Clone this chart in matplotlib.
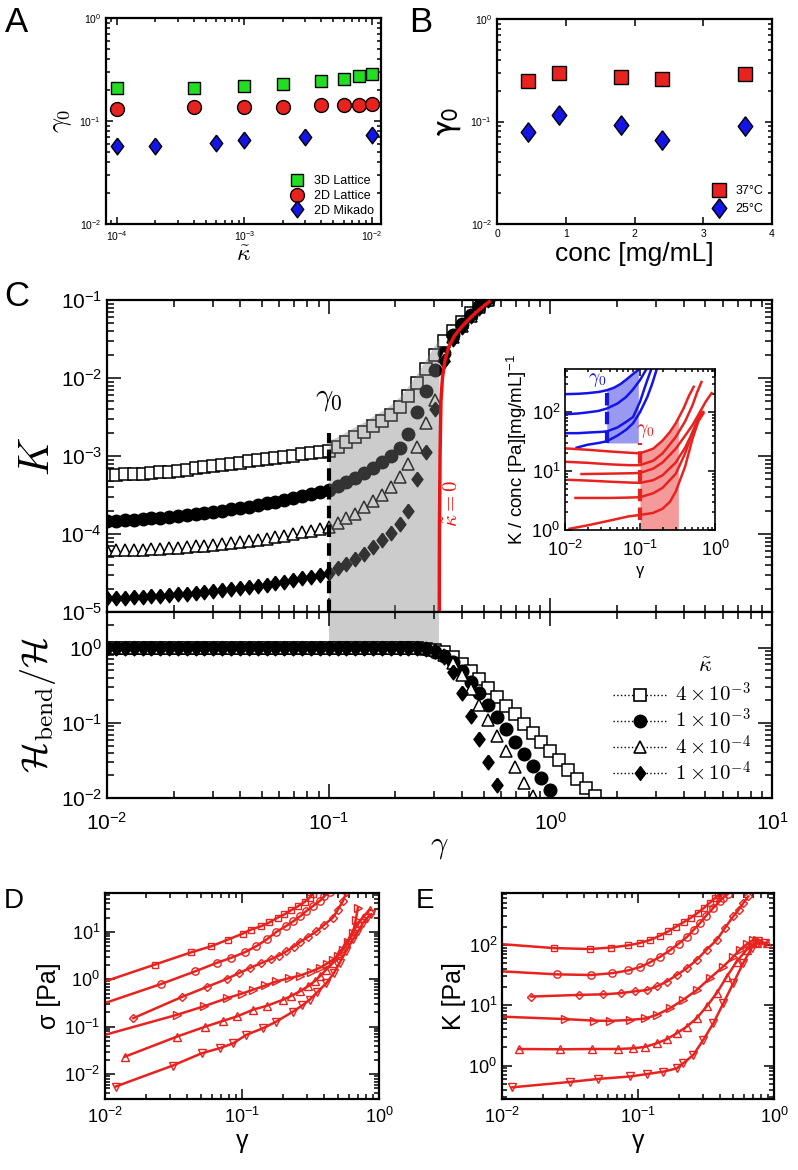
import numpy as np
import matplotlib
matplotlib.use("Agg")
import matplotlib.pyplot as plt
from matplotlib.lines import Line2D
from matplotlib.ticker import LogLocator, NullFormatter

plt.rcParams['font.family'] = ['Liberation Sans', 'DejaVu Sans']
plt.rcParams['mathtext.fontset'] = 'cm'

W, H = 798, 1170

# ---------------- panel A: gamma_0 vs kappa
kap_3d = [1e-4, 4e-4, 1e-3, 2e-3, 4e-3, 6e-3, 8e-3, 1e-2]
g0_3d = [0.21, 0.21, 0.22, 0.227, 0.246, 0.258, 0.272, 0.286]
kap_2d = [1e-4, 4e-4, 1e-3, 2e-3, 4e-3, 6e-3, 8e-3, 1e-2]
g0_2d = [0.132, 0.138, 0.138, 0.138, 0.143, 0.143, 0.143, 0.147]
kap_mk = [1e-4, 2e-4, 6e-4, 1e-3, 3e-3, 1e-2]
g0_mk = [0.057, 0.057, 0.061, 0.0655, 0.0695, 0.0726]

# ---------------- panel B: gamma_0 vs concentration
conc = [0.45, 0.9, 1.8, 2.4, 3.6]
g0_37 = [0.248, 0.295, 0.27, 0.262, 0.292]
g0_25 = [0.0795, 0.115, 0.0925, 0.066, 0.0897]

# ---------------- panel C: strain grid of the simulations
gam = [0.0100, 0.0110, 0.0120, 0.0132, 0.0145, 0.0158, 0.0174, 0.0191, 0.0209, 0.0229,
       0.0251, 0.0275, 0.0302, 0.0331, 0.0363, 0.0398, 0.0437, 0.0479, 0.0525, 0.0575,
       0.0631, 0.0692, 0.0759, 0.0832, 0.0912, 0.100, 0.110, 0.120, 0.132, 0.145,
       0.158, 0.174, 0.191, 0.209, 0.229, 0.251, 0.275, 0.302, 0.331, 0.363,
       0.398, 0.437, 0.479, 0.525, 0.575, 0.631, 0.692, 0.759, 0.832, 0.912,
       1.000, 1.096, 1.202, 1.318, 1.445, 1.585]

# log10 K for kappa = 4e-3, 1e-3, 4e-4, 1e-4
lgK_sq = [-3.24, -3.24, -3.235, -3.23, -3.225, -3.22, -3.21, -3.20, -3.19, -3.175,
          -3.16, -3.145, -3.13, -3.115, -3.10, -3.085, -3.07, -3.055, -3.04, -3.025,
          -3.01, -2.995, -2.98, -2.965, -2.95, -2.93, -2.88, -2.82, -2.75, -2.69,
          -2.62, -2.55, -2.47, -2.37, -2.23, -2.07, -1.89, -1.70, -1.53, -1.40,
          -1.28, -1.17, -1.07, -0.99]
lgK_ci = [-3.83, -3.83, -3.825, -3.82, -3.81, -3.80, -3.79, -3.78, -3.765, -3.755,
          -3.74, -3.73, -3.715, -3.70, -3.685, -3.67, -3.65, -3.63, -3.605, -3.585,
          -3.56, -3.54, -3.515, -3.49, -3.465, -3.44, -3.39, -3.33, -3.28, -3.22,
          -3.15, -3.08, -3.00, -2.90, -2.72, -2.44, -2.17, -1.90, -1.68, -1.45,
          -1.31, -1.19, -1.08, -1.00]
lgK_tr = [-4.21, -4.21, -4.205, -4.20, -4.20, -4.195, -4.19, -4.185, -4.18, -4.17,
          -4.16, -4.15, -4.14, -4.13, -4.12, -4.105, -4.09, -4.075, -4.06, -4.04,
          -4.02, -4.00, -3.98, -3.96, -3.935, -3.91, -3.86, -3.80, -3.74, -3.66,
          -3.58, -3.50, -3.40, -3.27, -3.10, -2.88, -2.58, -2.28, -1.72, -1.47,
          -1.33, -1.20, -1.09, -1.00]
lgK_di = [-4.82, -4.82, -4.815, -4.81, -4.805, -4.80, -4.795, -4.785, -4.775, -4.765,
          -4.755, -4.745, -4.735, -4.72, -4.71, -4.695, -4.68, -4.665, -4.65, -4.63,
          -4.61, -4.59, -4.57, -4.545, -4.52, -4.50, -4.44, -4.38, -4.32, -4.25,
          -4.17, -4.08, -3.99, -3.87, -3.70, -3.30, -2.95, -2.40, -1.78, -1.50,
          -1.34, -1.21, -1.10, -1.00]

# kappa = 0 curve
gam_k0 = [0.315, 0.316, 0.318, 0.321, 0.326, 0.335, 0.348, 0.37, 0.40, 0.44, 0.48, 0.53]
K_k0 = [1e-6, 1e-4, 1e-3, 5e-3, 0.010, 0.017, 0.025, 0.035, 0.046, 0.061, 0.076, 0.095]

gamma0 = 0.1
gamma_c = 0.315

# log10 H_bend/H
lgH_sq = [0, 0, 0, 0, 0, 0, 0, 0, 0, 0, 0, 0, 0, 0, 0, 0, 0, 0,
          0, 0, 0, 0, 0, 0, 0, 0, 0, 0, 0, 0, 0, 0, 0, 0, 0, 0,
          -0.01, -0.03, -0.06, -0.12, -0.21, -0.31, -0.42, -0.53, -0.65, -0.77,
          -0.88, -1.01, -1.13, -1.26, -1.38, -1.50, -1.63, -1.75, -1.87, -1.98]
lgH_ci = [0, 0, 0, 0, 0, 0, 0, 0, 0, 0, 0, 0, 0, 0, 0, 0, 0, 0,
          0, 0, 0, 0, 0, 0, 0, 0, 0, 0, 0, 0, 0, 0, 0, 0, 0, 0,
          -0.02, -0.05, -0.11, -0.19, -0.31, -0.45, -0.60, -0.76, -0.92, -1.08,
          -1.25, -1.41, -1.58, -1.74, -1.90]
lgH_tr = [0, 0, 0, 0, 0, 0, 0, 0, 0, 0, 0, 0, 0, 0, 0, 0, 0, 0,
          0, 0, 0, 0, 0, 0, 0, 0, 0, 0, 0, 0, 0, 0, 0, 0, 0, 0, 0,
          -0.03, -0.09, -0.20, -0.36, -0.55, -0.76, -0.96, -1.17, -1.38, -1.59,
          -1.80, -1.98]
lgH_di = [0, 0, 0, 0, 0, 0, 0, 0, 0, 0, 0, 0, 0, 0, 0, 0, 0, 0,
          0, 0, 0, 0, 0, 0, 0, 0, 0, 0, 0, 0, 0, 0, 0, 0, 0, 0,
          -0.01, -0.04, -0.12, -0.32, -0.60, -0.91, -1.21, -1.52, -1.83]

kappa_labels = [r'$4\times10^{-3}$', r'$1\times10^{-3}$', r'$4\times10^{-4}$', r'$1\times10^{-4}$']

# ---------------- inset: K/conc vs gamma (experiments)
b1_x = [0.010, 0.015, 0.020, 0.028, 0.036, 0.045, 0.055, 0.068, 0.080, 0.095]
b1_y = [202, 205, 210, 220, 235, 260, 300, 370, 440, 520]
b2_x = [0.010, 0.015, 0.020, 0.028, 0.036, 0.050, 0.065, 0.080, 0.100, 0.120]
b2_y = [92, 95, 99, 105, 115, 140, 180, 240, 350, 520]
b3_x = [0.010, 0.015, 0.020, 0.028, 0.036, 0.050, 0.065, 0.081, 0.100, 0.120, 0.140]
b3_y = [44, 44, 45, 46, 47, 55, 68, 83, 150, 300, 520]
b4_x = [0.0143, 0.020, 0.028, 0.036, 0.050, 0.065, 0.081, 0.100, 0.125, 0.145, 0.166]
b4_y = [25, 28, 30, 32, 40, 50, 65, 100, 180, 300, 520]
r1_x = [0.010, 0.020, 0.040, 0.070, 0.100, 0.150, 0.200, 0.250, 0.300, 0.380, 0.450, 0.520]
r1_y = [24.3, 23, 21.5, 20.5, 20, 24, 33, 46, 65, 115, 190, 270]
r2_x = [0.010, 0.020, 0.040, 0.070, 0.100, 0.150, 0.200, 0.300, 0.400, 0.500, 0.580, 0.660]
r2_y = [14.4, 13.8, 13.0, 12.6, 12.6, 15, 20, 38, 70, 130, 220, 325]
r3_x = [0.0166, 0.030, 0.050, 0.080, 0.100, 0.150, 0.200, 0.300, 0.400, 0.500, 0.600, 0.750, 0.900]
r3_y = [8.9, 9.0, 9.1, 9.2, 9.3, 11, 14, 24, 40, 60, 90, 150, 210]
r4_x = [0.0112, 0.020, 0.040, 0.070, 0.100, 0.150, 0.200, 0.300, 0.400, 0.500, 0.600, 0.700]
r4_y = [7.1, 6.9, 6.6, 6.4, 6.3, 7.0, 8.5, 14, 25, 45, 75, 100]
r5_x = [0.0138, 0.020, 0.040, 0.070, 0.100, 0.150, 0.200, 0.300, 0.400, 0.500, 0.600, 0.680]
r5_y = [3.5, 3.5, 3.5, 3.55, 3.6, 4.2, 5.2, 9, 20, 45, 80, 100]
r6_x = [0.0115, 0.020, 0.040, 0.070, 0.100, 0.150, 0.200, 0.250, 0.300, 0.400, 0.500, 0.600, 0.700]
r6_y = [1.05, 1.2, 1.45, 1.7, 1.8, 1.95, 2.3, 3.0, 4.5, 12, 35, 70, 95]
g0_blue, g0_red = 0.036, 0.1
blue_band = (30, 270)
red_band = (1.5, 29.5)
red_fill_end = 0.325

# ---------------- panel D: log10 gamma, log10 sigma
D_lgx = [
    [-2.0, -1.638, -1.371, -1.225, -1.103, -0.994, -0.933, -0.86, -0.80, -0.74, -0.69, -0.64, -0.592, -0.543, -0.507, -0.483],
    [-2.0, -1.592, -1.343, -1.186, -1.082, -0.98, -0.895, -0.82, -0.749, -0.68, -0.627, -0.575, -0.53, -0.48, -0.433, -0.40, -0.36],
    [-1.794, -1.441, -1.259, -1.113, -1.021, -0.94, -0.858, -0.79, -0.73, -0.676, -0.62, -0.579, -0.52, -0.457, -0.40, -0.336, -0.30, -0.263, -0.238],
    [-2.0, -1.477, -1.279, -1.106, -1.0, -0.919, -0.83, -0.749, -0.66, -0.579, -0.50, -0.433, -0.38, -0.336, -0.30, -0.263, -0.225, -0.19, -0.17, -0.154],
    [-1.854, -1.477, -1.27, -1.137, -1.035, -0.919, -0.82, -0.70, -0.64, -0.579, -0.52, -0.47, -0.433, -0.39, -0.336, -0.29, -0.238, -0.20, -0.165, -0.12, -0.068],
    [-1.922, -1.507, -1.295, -1.161, -1.065, -0.968, -0.846, -0.749, -0.627, -0.56, -0.506, -0.45, -0.384, -0.33, -0.287, -0.24, -0.19, -0.15, -0.117, -0.085, -0.056],
]
D_lgy = [
    [-0.044, 0.309, 0.569, 0.696, 0.837, 0.964, 1.05, 1.12, 1.20, 1.30, 1.37, 1.46, 1.54, 1.63, 1.72, 1.80],
    [-0.5, -0.10, 0.167, 0.345, 0.45, 0.57, 0.70, 0.84, 1.00, 1.12, 1.22, 1.33, 1.44, 1.55, 1.65, 1.75, 1.84],
    [-0.82, -0.374, -0.163, 0.006, 0.133, 0.24, 0.345, 0.42, 0.50, 0.59, 0.69, 0.78, 0.89, 1.01, 1.15, 1.30, 1.47, 1.65, 1.84],
    [-1.17, -0.75, -0.57, -0.395, -0.30, -0.22, -0.13, -0.044, 0.02, 0.076, 0.16, 0.24, 0.33, 0.414, 0.50, 0.626, 0.79, 0.98, 1.25, 1.51],
    [-1.63, -1.21, -1.0, -0.875, -0.78, -0.64, -0.56, -0.43, -0.35, -0.256, -0.15, -0.04, 0.06, 0.19, 0.345, 0.55, 0.77, 0.95, 1.12, 1.30, 1.47],
    [-2.26, -1.82, -1.56, -1.45, -1.35, -1.17, -1.03, -0.89, -0.68, -0.55, -0.43, -0.27, -0.08, 0.13, 0.345, 0.60, 0.84, 1.02, 1.19, 1.30, 1.37],
]

# ---------------- panel E: log10 gamma, log10 K
E_lgx = [
    [-2.0, -1.616, -1.352, -1.197, -1.075, -0.985, -0.91, -0.84, -0.78, -0.72, -0.66, -0.61, -0.56, -0.515, -0.47, -0.435, -0.41],
    [-2.0, -1.592, -1.344, -1.19, -1.073, -0.985, -0.911, -0.838, -0.764, -0.70, -0.64, -0.59, -0.544, -0.50, -0.446, -0.40, -0.373, -0.34],
    [-1.787, -1.437, -1.254, -1.124, -1.021, -0.935, -0.862, -0.789, -0.715, -0.642, -0.568, -0.495, -0.421, -0.36, -0.30, -0.26, -0.226, -0.19],
    [-2.0, -1.535, -1.327, -1.205, -1.058, -0.948, -0.862, -0.764, -0.667, -0.568, -0.47, -0.373, -0.30, -0.25, -0.20, -0.153, -0.125, -0.104],
    [-1.878, -1.572, -1.339, -1.144, -1.034, -0.948, -0.862, -0.789, -0.715, -0.642, -0.568, -0.495, -0.421, -0.348, -0.275, -0.201, -0.128, -0.054],
    [-1.927, -1.499, -1.291, -1.058, -0.935, -0.813, -0.715, -0.667, -0.593, -0.52, -0.446, -0.373, -0.30, -0.226, -0.165, -0.116, -0.067],
]
E_lgy = [
    [2.01, 1.945, 1.93, 1.955, 1.99, 2.03, 2.08, 2.15, 2.22, 2.30, 2.38, 2.45, 2.53, 2.61, 2.70, 2.77, 2.82],
    [1.56, 1.51, 1.50, 1.53, 1.575, 1.63, 1.71, 1.80, 1.91, 2.02, 2.13, 2.25, 2.36, 2.48, 2.61, 2.72, 2.78, 2.84],
    [1.143, 1.17, 1.18, 1.20, 1.23, 1.25, 1.31, 1.39, 1.50, 1.61, 1.75, 1.92, 2.08, 2.28, 2.47, 2.58, 2.69, 2.80],
    [0.81, 0.77, 0.745, 0.74, 0.756, 0.78, 0.84, 0.95, 1.09, 1.25, 1.45, 1.64, 1.80, 1.92, 2.01, 2.08, 2.08, 2.03],
    [0.275, 0.27, 0.275, 0.275, 0.287, 0.31, 0.37, 0.436, 0.535, 0.645, 0.785, 0.98, 1.20, 1.47, 1.72, 1.92, 2.03, 2.03],
    [-0.36, -0.27, -0.22, -0.18, -0.14, -0.10, -0.045, 0.04, 0.176, 0.425, 0.70, 1.03, 1.36, 1.70, 1.945, 2.055, 2.03],
]
DE_markers = ['s', 'o', 'D', '>', '^', 'v']
DE_ms = [4.8, 5.3, 4.3, 5.5, 5.5, 5.5]

RED = '#e8221e'
GREEN = '#22dd22'
BLUE = '#1414e6'
diamond = [(0, 1), (0.75, 0), (0, -1), (-0.75, 0), (0, 1)]


def rect(l, t, r, b):
    return [l / W, 1 - b / H, (r - l) / W, (b - t) / H]


def log_axis(axis):
    axis.set_major_locator(LogLocator(base=10, numticks=20))
    axis.set_minor_locator(LogLocator(base=10, subs=np.arange(2, 10), numticks=20))
    axis.set_minor_formatter(NullFormatter())


def frame(ax, lab, maj, mnr, lw=1.6):
    ax.tick_params(which='both', direction='in', top=True, right=True, width=1.1, labelsize=lab)
    ax.tick_params(which='major', length=maj)
    ax.tick_params(which='minor', length=mnr)
    for s in ax.spines.values():
        s.set_linewidth(lw)


fig = plt.figure(figsize=(W / 100, H / 100), dpi=100)

# ================= A
axA = fig.add_axes(rect(106, 18, 381, 224))
axA.plot(kap_3d, g0_3d, 's', ms=9, mfc=GREEN, mec='k', mew=1, label='3D Lattice')
axA.plot(kap_2d, g0_2d, 'o', ms=10, mfc=RED, mec='k', mew=1, label='2D Lattice')
axA.plot(kap_mk, g0_mk, marker=diamond, ls='none', ms=12, mfc=BLUE, mec='k', mew=1, label='2D Mikado')
axA.set_xscale('log')
axA.set_yscale('log')
axA.set_xlim(8.2e-5, 1.18e-2)
axA.set_ylim(1e-2, 1)
log_axis(axA.xaxis)
log_axis(axA.yaxis)
frame(axA, 7.5, 5, 3)
axA.set_xlabel(r'$\tilde{\kappa}$', fontsize=17, labelpad=1)
axA.set_ylabel(r'$\gamma_0$', fontsize=19, labelpad=4)
axA.legend(loc='lower right', fontsize=9, frameon=False, handletextpad=0.7,
           labelspacing=0.2, borderaxespad=0.2, handlelength=1.2, numpoints=1)

# ================= B
axB = fig.add_axes(rect(497, 19, 772, 224))
axB.plot(conc, g0_37, 's', ms=10, mfc=RED, mec='k', mew=1, label='37°C')
axB.plot(conc, g0_25, marker=diamond, ls='none', ms=14, mfc=BLUE, mec='k', mew=1, label='25°C')
axB.set_yscale('log')
axB.set_xlim(0, 4)
axB.set_ylim(1e-2, 1)
axB.set_xticks([0, 1, 2, 3, 4])
log_axis(axB.yaxis)
frame(axB, 7.5, 5, 3)
axB.set_xlabel('conc [mg/mL]', fontsize=19, labelpad=2)
axB.set_ylabel(r'$\mathrm{\gamma}_0$', fontsize=25, labelpad=5, math_fontfamily='stixsans')
axB.legend(loc='lower right', fontsize=9, frameon=False, handletextpad=0.7,
           labelspacing=0.5, borderaxespad=0.3, handlelength=1.2, numpoints=1)

# ================= C top: K
g = np.array(gam)
axC = fig.add_axes(rect(107, 300, 772, 612))
n = len(lgK_sq)
axC.plot(g[:n], 10 ** np.array(lgK_sq), 's', ms=8, mfc='w', mec='k', mew=1.1, zorder=2)
axC.plot(g[:n], 10 ** np.array(lgK_ci), 'o', ms=9, mfc='k', mec='k', zorder=2)
axC.plot(g[:n], 10 ** np.array(lgK_tr), '^', ms=9, mfc='w', mec='k', mew=1.1, zorder=2)
axC.plot(g[:n], 10 ** np.array(lgK_di), marker=diamond, ls='none', ms=10.5, mfc='k', mec='k', zorder=2)
sel = (g[:n] >= gamma0) & (g[:n] <= gamma_c)
gx = np.concatenate([g[:n][sel], [gamma_c]])
gy = 10 ** np.interp(np.log10(gx), np.log10(g[:n]), np.array(lgK_sq)) * 1.35
axC.fill_between(gx, 1e-5, gy, color='0.5', alpha=0.4, lw=0, zorder=3)
axC.plot(gam_k0, K_k0, color='#ee1111', lw=2.5, zorder=4)
axC.plot([gamma0, gamma0], [1e-5, 2e-3], color='k', lw=3, ls=(0, (3, 1.5)), zorder=4)
axC.text(gamma0, 5.5e-3, r'$\gamma_0$', fontsize=22, ha='center', va='center')
axC.text(0.362, 2.5e-4, r'$\tilde{\kappa}=0$', fontsize=15, color='#ee1111', rotation=90,
         ha='center', va='center')
axC.set_xscale('log')
axC.set_yscale('log')
axC.set_xlim(1e-2, 10)
axC.set_ylim(1e-5, 1e-1)
log_axis(axC.xaxis)
log_axis(axC.yaxis)
frame(axC, 15, 10, 5)
axC.tick_params(labelbottom=False)
axC.set_ylabel(r'$K$', fontsize=30, labelpad=2)

# ================= C bottom: H_bend/H
axH = fig.add_axes(rect(107, 612, 772, 798))
axH.fill_between([gamma0, gamma_c], 1.0, 3.0, color='#cccccc', lw=0, zorder=0.5)
for lg_h, mk, ms, fc in [(lgH_sq, 's', 8, 'w'), (lgH_ci, 'o', 9, 'k'),
                         (lgH_tr, '^', 9, 'w'), (lgH_di, diamond, 10.5, 'k')]:
    axH.plot(g[:len(lg_h)], 10 ** np.array(lg_h), marker=mk, ls='none', ms=ms,
             mfc=fc, mec='k', mew=1.1, zorder=2)
axH.set_xscale('log')
axH.set_yscale('log')
axH.set_xlim(1e-2, 10)
log_axis(axH.xaxis)
log_axis(axH.yaxis)
frame(axH, 15, 10, 5)
axH.tick_params(axis='x', which='major', pad=10)
axH.set_yticks([1e-2, 1e-1, 1])
axH.set_ylim(1e-2, 3)
axH.set_xlabel(r'$\gamma$', fontsize=22, labelpad=-2)
axH.set_ylabel(r'$\mathcal{H}_{\rm bend}/\mathcal{H}$', fontsize=26, labelpad=2)
handles = [Line2D([], [], ls=':', color='k', lw=1, marker='s', ms=8, mfc='w', mec='k', mew=1.2),
           Line2D([], [], ls=':', color='k', lw=1, marker='o', ms=9, mfc='k', mec='k'),
           Line2D([], [], ls=':', color='k', lw=1, marker='^', ms=9, mfc='w', mec='k', mew=1.2),
           Line2D([], [], ls=':', color='k', lw=1, marker=diamond, ms=10, mfc='k', mec='k')]
axH.legend(handles, kappa_labels, loc='upper right', bbox_to_anchor=(0.968, 0.625),
           frameon=False, fontsize=15, handlelength=2.6, handletextpad=0.35,
           labelspacing=0.1, borderaxespad=0, borderpad=0)
axH.text(0.899, 0.705, r'$\tilde{\kappa}$', transform=axH.transAxes, fontsize=16,
         ha='center', va='center')

# ================= inset
axI = fig.add_axes(rect(565, 369, 715, 530))
axI.set_facecolor('w')
bfx = [x for x in b1_x if g0_blue <= x <= 0.095]
bfy = [y for x, y in zip(b1_x, b1_y) if g0_blue <= x <= 0.095]
axI.fill_between(bfx, blue_band[0], bfy, color='#8080ee', alpha=0.8, lw=0, zorder=1)
rx = np.array(r1_x)
rfx = np.concatenate([rx[(rx >= g0_red) & (rx <= red_fill_end)], [red_fill_end]])
rfy = 10 ** np.interp(np.log10(rfx), np.log10(rx), np.log10(r1_y))
axI.fill_between(rfx, 1, rfy, color='#f49a9a', lw=0, zorder=1)
for xs, ys in [(b1_x, b1_y), (b2_x, b2_y), (b3_x, b3_y), (b4_x, b4_y)]:
    axI.plot(xs, ys, color=BLUE, lw=1.8, zorder=2)
for xs, ys in [(r1_x, r1_y), (r2_x, r2_y), (r3_x, r3_y), (r4_x, r4_y), (r5_x, r5_y), (r6_x, r6_y)]:
    axI.plot(xs, ys, color=RED, lw=1.8, zorder=2)
axI.plot([g0_blue, g0_blue], blue_band, color=BLUE, lw=3, ls=(0, (3, 1.5)), zorder=3)
axI.plot([g0_red, g0_red], red_band, color=RED, lw=3, ls=(0, (3, 1.5)), zorder=3)
axI.text(0.027, 350, r'$\gamma_0$', color=BLUE, fontsize=14, ha='center', va='center')
axI.text(0.118, 48, r'$\gamma_0$', color=RED, fontsize=14, ha='center', va='center')
axI.set_xscale('log')
axI.set_yscale('log')
axI.set_xlim(1e-2, 1)
axI.set_ylim(1, 540)
log_axis(axI.xaxis)
log_axis(axI.yaxis)
frame(axI, 13, 5, 2.5, lw=1.2)
axI.tick_params(axis='x', which='major', pad=7)
axI.set_xlabel('γ', fontsize=12, labelpad=2)
axI.set_ylabel(r'K / conc [Pa][mg/mL]$^{\mathdefault{-1}}$', fontsize=13.5, labelpad=2)

# ================= D and E
for rc, lgx_all, lgy_all, ylim, ylab in [
        ((105, 893, 379, 1099), D_lgx, D_lgy, (3e-3, 66), 'σ [Pa]'),
        ((502, 893, 774, 1099), E_lgx, E_lgy, (0.28, 720), 'K [Pa]')]:
    ax = fig.add_axes(rect(*rc))
    for lx, ly, mk, ms in zip(lgx_all, lgy_all, DE_markers, DE_ms):
        every = slice(1, None) if lx[0] <= -2 else None
        ax.plot(10 ** np.array(lx), 10 ** np.array(ly), color=RED, lw=1.8, marker=mk, ms=ms,
                mfc='none', mec=RED, mew=1, markevery=every)
    ax.set_xscale('log')
    ax.set_yscale('log')
    ax.set_xlim(1e-2, 1)
    ax.set_ylim(*ylim)
    log_axis(ax.xaxis)
    log_axis(ax.yaxis)
    frame(ax, 13, 7, 3.5)
    ax.tick_params(axis='x', which='major', pad=6)
    ax.set_xlabel('γ', fontsize=18, labelpad=1)
    ax.set_ylabel(ylab, fontsize=18, labelpad=2)

# panel letters
for lab, x, y, fs in [('A', 5, 32, 25), ('B', 409, 32, 25), ('C', 4, 306, 25),
                      ('D', 4, 908, 20), ('E', 416, 908, 20)]:
    fig.text(x / W, 1 - y / H, lab, fontsize=fs, ha='left', va='baseline')

fig.savefig('out.png', dpi=100)
